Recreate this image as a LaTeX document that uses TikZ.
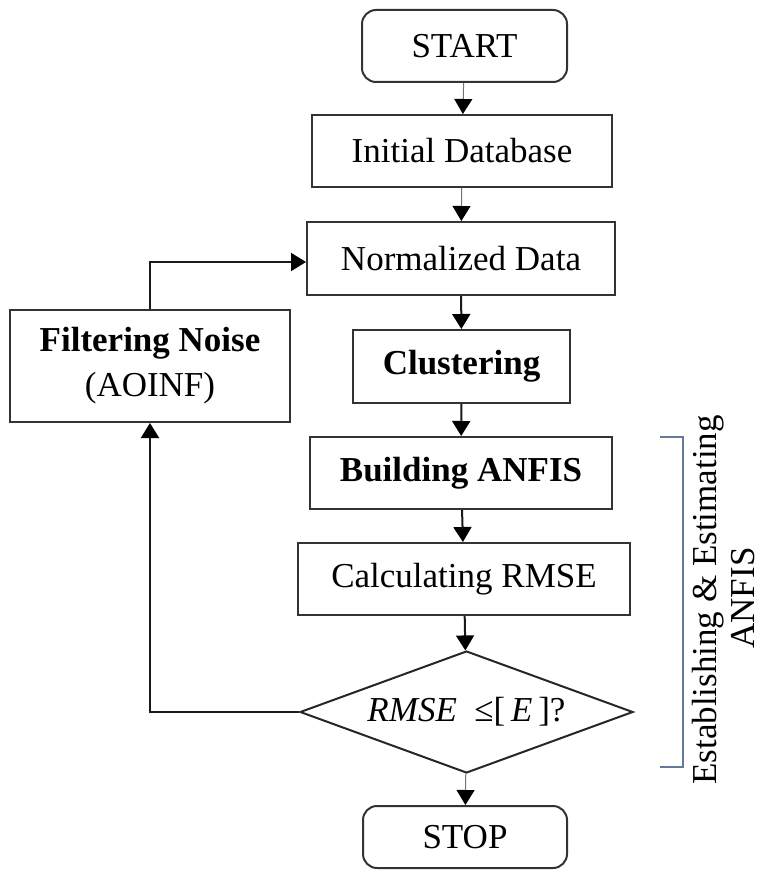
\documentclass[tikz,border=0pt]{standalone}
\usepackage{fontspec}
\setmainfont{Liberation Serif}
\usetikzlibrary{arrows.meta,shapes.geometric}
\newdimen\unit
\tikzset{unit/.code={\unit=\dimexpr#1\relax}}
\tikzset{xy/.style={x={(#1,0)},y={(0,-#1)},unit={#1},font={\fontsize{35\unit}{45\unit}\selectfont},line width=2\unit}}
\tikzset{
    stepbox/.style={draw=black!80,rectangle,inner sep=0pt},
    endbox/.style={stepbox,rounded corners=14\unit},
    testbox/.style={draw=black!85,diamond,inner sep=0pt},
    link/.style={draw=black!90,-{Triangle[length=15pt,width=18pt,black]}},
    thinlink/.style={link,line width=1\unit,draw=black!55},
}
\begin{document}
\begin{tikzpicture}[xy=1pt]%
    \path [use as bounding box] (0,0) rectangle (767,872);
    % main column
    \path (464.5,46) node [endbox,minimum width=205\unit,minimum height=72\unit] (start) {START};
    \path (462,151) node [stepbox,minimum width=300\unit,minimum height=72\unit] (initdb) {Initial Database};
    \path (461,258.5) node [stepbox,minimum width=308\unit,minimum height=73\unit] (normdata) {Normalized Data};
    \path (461.5,366.5) node [stepbox,minimum width=217\unit,minimum height=73\unit] (cluster) {\bfseries Clustering};
    \path (461,473) node [stepbox,minimum width=302\unit,minimum height=72\unit] (build) {\bfseries Building ANFIS};
    \path (464,579) node [stepbox,minimum width=332\unit,minimum height=72\unit] (calc) {Calculating RMSE};
    \path (466.5,712) node [testbox,minimum width=333\unit,minimum height=122\unit,aspect=2.73] (test) {\itshape RMSE\/\upshape~~≤[\,\itshape E\/\upshape\,]?};
    \path (465,837) node [endbox,minimum width=204\unit,minimum height=62\unit] (stop) {STOP};
    % feedback
    \path (150,366) node [stepbox,minimum width=280\unit,minimum height=112\unit,align=center] (filter) {\bfseries Filtering Noise\\(AOINF)};
    \coordinate (turn) at (151,262);
    \path [thinlink] (start) -- (initdb);
    \path [thinlink] (initdb) -- (normdata);
    \path [link] (normdata) -- (cluster);
    \path [link] (cluster) -- (build);
    \path [link] (build) -- (calc);
    \path [link] (calc) -- (test);
    \path [thinlink] (test) -- (stop);
    \path [link] (test.west) -| (filter.south);
    \path [link] (filter.north) |- (turn) -- (turn -| normdata.west);
    % bracket
    \path [draw,draw={rgb,255:red,100;green,122;blue,152},line width=2.5\unit] (660,437) coordinate (btop) -- (683,437) -- (683,767) -- (660,767) coordinate (bbot);
    \path (708,600) node [rotate=90,inner sep=0pt] (estlabel) {Establishing \& Estimating};
    \path (743,598) node [rotate=90,inner sep=0pt] (anfislabel) {ANFIS};
\end{tikzpicture}
\end{document}
